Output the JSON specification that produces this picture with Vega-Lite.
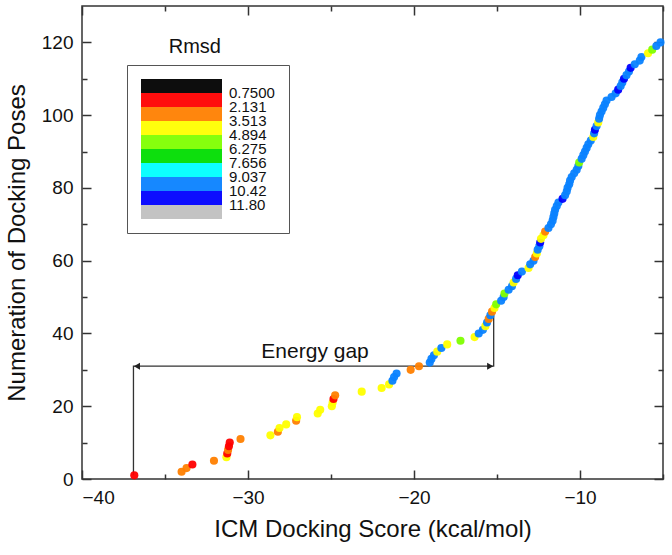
{
  "$schema": "https://vega.github.io/schema/vega-lite/v6.json",
  "width": 581,
  "height": 473,
  "autosize": {"type": "none"},
  "padding": {"left": 82, "top": 6, "right": 9, "bottom": 76},
  "background": "white",
  "config": {
    "font": "Liberation Sans",
    "view": {"stroke": "#333333", "strokeWidth": 1.5},
    "axis": {"grid": false, "domain": false, "tickColor": "#333333", "tickWidth": 1.5, "labelColor": "#111111", "titleColor": "#111111", "labelFont": "Liberation Sans", "titleFont": "Liberation Sans", "titleFontWeight": "normal"}
  },
  "datasets": {
    "poses": [
      {"pose": 1, "score": -36.85, "rmsd": 1.5},
      {"pose": 2, "score": -34.0, "rmsd": 3.0},
      {"pose": 3, "score": -33.7, "rmsd": 3.0},
      {"pose": 4, "score": -33.35, "rmsd": 1.5},
      {"pose": 5, "score": -32.05, "rmsd": 3.0},
      {"pose": 6, "score": -31.3, "rmsd": 4.2},
      {"pose": 7, "score": -31.25, "rmsd": 1.5},
      {"pose": 8, "score": -31.2, "rmsd": 3.0},
      {"pose": 9, "score": -31.15, "rmsd": 1.5},
      {"pose": 10, "score": -31.1, "rmsd": 1.5},
      {"pose": 11, "score": -30.45, "rmsd": 3.0},
      {"pose": 12, "score": -28.65, "rmsd": 4.2},
      {"pose": 13, "score": -28.2, "rmsd": 3.0},
      {"pose": 14, "score": -28.1, "rmsd": 4.2},
      {"pose": 15, "score": -27.7, "rmsd": 4.2},
      {"pose": 16, "score": -27.1, "rmsd": 3.0},
      {"pose": 17, "score": -27.05, "rmsd": 4.2},
      {"pose": 18, "score": -25.8, "rmsd": 4.2},
      {"pose": 19, "score": -25.65, "rmsd": 4.2},
      {"pose": 20, "score": -24.95, "rmsd": 4.2},
      {"pose": 21, "score": -24.9, "rmsd": 4.2},
      {"pose": 22, "score": -24.85, "rmsd": 1.5},
      {"pose": 23, "score": -24.75, "rmsd": 3.0},
      {"pose": 24, "score": -23.15, "rmsd": 4.2},
      {"pose": 25, "score": -21.95, "rmsd": 4.2},
      {"pose": 26, "score": -21.5, "rmsd": 4.2},
      {"pose": 27, "score": -21.3, "rmsd": 9.7},
      {"pose": 28, "score": -21.2, "rmsd": 9.7},
      {"pose": 29, "score": -21.05, "rmsd": 9.7},
      {"pose": 30, "score": -20.2, "rmsd": 3.0},
      {"pose": 31, "score": -19.7, "rmsd": 3.0},
      {"pose": 32, "score": -19.05, "rmsd": 9.7},
      {"pose": 33, "score": -18.95, "rmsd": 9.7},
      {"pose": 34, "score": -18.8, "rmsd": 9.7},
      {"pose": 35, "score": -18.6, "rmsd": 4.2},
      {"pose": 36, "score": -18.35, "rmsd": 9.7},
      {"pose": 37, "score": -18.0, "rmsd": 4.2},
      {"pose": 38, "score": -17.2, "rmsd": 5.5},
      {"pose": 39, "score": -16.35, "rmsd": 4.2},
      {"pose": 40, "score": -16.1, "rmsd": 9.7},
      {"pose": 41, "score": -15.85, "rmsd": 9.7},
      {"pose": 42, "score": -15.7, "rmsd": 4.2},
      {"pose": 43, "score": -15.6, "rmsd": 9.7},
      {"pose": 44, "score": -15.5, "rmsd": 3.0},
      {"pose": 45, "score": -15.4, "rmsd": 9.7},
      {"pose": 46, "score": -15.3, "rmsd": 3.0},
      {"pose": 47, "score": -15.15, "rmsd": 4.2},
      {"pose": 48, "score": -15.05, "rmsd": 5.5},
      {"pose": 49, "score": -14.75, "rmsd": 9.7},
      {"pose": 50, "score": -14.6, "rmsd": 9.7},
      {"pose": 51, "score": -14.55, "rmsd": 5.5},
      {"pose": 52, "score": -14.3, "rmsd": 9.7},
      {"pose": 53, "score": -14.1, "rmsd": 9.7},
      {"pose": 54, "score": -14.0, "rmsd": 4.2},
      {"pose": 55, "score": -13.85, "rmsd": 9.7},
      {"pose": 56, "score": -13.75, "rmsd": 11.0},
      {"pose": 57, "score": -13.5, "rmsd": 9.7},
      {"pose": 58, "score": -13.1, "rmsd": 4.2},
      {"pose": 59, "score": -13.0, "rmsd": 9.7},
      {"pose": 60, "score": -12.8, "rmsd": 9.7},
      {"pose": 61, "score": -12.7, "rmsd": 3.0},
      {"pose": 62, "score": -12.6, "rmsd": 4.2},
      {"pose": 63, "score": -12.55, "rmsd": 9.7},
      {"pose": 64, "score": -12.45, "rmsd": 9.7},
      {"pose": 65, "score": -12.4, "rmsd": 11.0},
      {"pose": 66, "score": -12.35, "rmsd": 4.2},
      {"pose": 67, "score": -12.2, "rmsd": 4.2},
      {"pose": 68, "score": -12.1, "rmsd": 3.0},
      {"pose": 69, "score": -11.9, "rmsd": 9.7},
      {"pose": 70, "score": -11.75, "rmsd": 9.7},
      {"pose": 71, "score": -11.65, "rmsd": 9.7},
      {"pose": 72, "score": -11.6, "rmsd": 9.7},
      {"pose": 73, "score": -11.55, "rmsd": 9.7},
      {"pose": 74, "score": -11.5, "rmsd": 9.7},
      {"pose": 75, "score": -11.4, "rmsd": 9.7},
      {"pose": 76, "score": -11.3, "rmsd": 9.7},
      {"pose": 77, "score": -11.05, "rmsd": 11.0},
      {"pose": 78, "score": -10.9, "rmsd": 9.7},
      {"pose": 79, "score": -10.8, "rmsd": 9.7},
      {"pose": 80, "score": -10.75, "rmsd": 9.7},
      {"pose": 81, "score": -10.65, "rmsd": 9.7},
      {"pose": 82, "score": -10.6, "rmsd": 9.7},
      {"pose": 83, "score": -10.5, "rmsd": 9.7},
      {"pose": 84, "score": -10.35, "rmsd": 9.7},
      {"pose": 85, "score": -10.2, "rmsd": 9.7},
      {"pose": 86, "score": -10.1, "rmsd": 9.7},
      {"pose": 87, "score": -10.05, "rmsd": 5.5},
      {"pose": 88, "score": -9.9, "rmsd": 9.7},
      {"pose": 89, "score": -9.8, "rmsd": 9.7},
      {"pose": 90, "score": -9.7, "rmsd": 9.7},
      {"pose": 91, "score": -9.6, "rmsd": 9.7},
      {"pose": 92, "score": -9.5, "rmsd": 9.7},
      {"pose": 93, "score": -9.35, "rmsd": 9.7},
      {"pose": 94, "score": -9.2, "rmsd": 4.2},
      {"pose": 95, "score": -9.15, "rmsd": 9.7},
      {"pose": 96, "score": -9.1, "rmsd": 11.0},
      {"pose": 97, "score": -9.0, "rmsd": 9.7},
      {"pose": 98, "score": -8.9, "rmsd": 4.2},
      {"pose": 99, "score": -8.85, "rmsd": 9.7},
      {"pose": 100, "score": -8.8, "rmsd": 9.7},
      {"pose": 101, "score": -8.7, "rmsd": 9.7},
      {"pose": 102, "score": -8.6, "rmsd": 9.7},
      {"pose": 103, "score": -8.5, "rmsd": 9.7},
      {"pose": 104, "score": -8.4, "rmsd": 9.7},
      {"pose": 105, "score": -8.1, "rmsd": 9.7},
      {"pose": 106, "score": -7.85, "rmsd": 9.7},
      {"pose": 107, "score": -7.7, "rmsd": 11.0},
      {"pose": 108, "score": -7.55, "rmsd": 9.7},
      {"pose": 109, "score": -7.45, "rmsd": 9.7},
      {"pose": 110, "score": -7.35, "rmsd": 11.0},
      {"pose": 111, "score": -7.2, "rmsd": 9.7},
      {"pose": 112, "score": -7.05, "rmsd": 9.7},
      {"pose": 113, "score": -6.95, "rmsd": 11.0},
      {"pose": 114, "score": -6.7, "rmsd": 9.7},
      {"pose": 115, "score": -6.4, "rmsd": 9.7},
      {"pose": 116, "score": -6.3, "rmsd": 9.7},
      {"pose": 117, "score": -5.9, "rmsd": 4.2},
      {"pose": 118, "score": -5.65, "rmsd": 5.5},
      {"pose": 119, "score": -5.4, "rmsd": 9.7},
      {"pose": 120, "score": -5.15, "rmsd": 9.7}
    ],
    "gap": [
      {"gx": -36.9, "gy": 1, "o": 1},
      {"gx": -36.9, "gy": 31, "o": 2},
      {"gx": -15.2, "gy": 31, "o": 3},
      {"gx": -15.2, "gy": 45, "o": 4}
    ]
  },
  "layer": [
    {
      "data": {"name": "gap"},
      "mark": {"type": "line", "color": "#333333", "strokeWidth": 1.3},
      "encoding": {
        "x": {"field": "gx", "type": "quantitative", "scale": {"domain": [-40, -5], "nice": false, "zero": false},
          "axis": {"orient": "top", "values": [-40, -35, -30, -25, -20, -15, -10, -5], "labels": false, "title": null,
            "tickSize": {"condition": {"test": "datum.value % 10 === 0", "value": -9}, "value": -5}}},
        "y": {"field": "gy", "type": "quantitative", "scale": {"domain": [0, 130], "nice": false, "zero": false},
          "axis": {"orient": "right", "values": [0, 10, 20, 30, 40, 50, 60, 70, 80, 90, 100, 110, 120], "labels": false, "title": null,
            "tickSize": {"condition": {"test": "datum.value % 20 === 0", "value": -9}, "value": -5}}},
        "order": {"field": "o", "type": "quantitative"}
      }
    },
    {
      "data": {"values": [{"ax": -36.69, "ay": 31}]},
      "mark": {"type": "point", "shape": "triangle-left", "filled": true, "color": "#222222", "size": 50, "opacity": 1},
      "encoding": {
        "x": {"field": "ax", "type": "quantitative", "axis": null},
        "y": {"field": "ay", "type": "quantitative", "axis": null}
      }
    },
    {
      "data": {"values": [{"ax": -15.41, "ay": 31}]},
      "mark": {"type": "point", "shape": "triangle-right", "filled": true, "color": "#222222", "size": 50, "opacity": 1},
      "encoding": {
        "x": {"field": "ax", "type": "quantitative", "axis": null},
        "y": {"field": "ay", "type": "quantitative", "axis": null}
      }
    },
    {
      "data": {"values": [{"tx": -25.96, "ty": 33.3, "label": "Energy gap"}]},
      "mark": {"type": "text", "fontSize": 21, "align": "center", "baseline": "alphabetic", "color": "#111111"},
      "encoding": {
        "x": {"field": "tx", "type": "quantitative", "axis": null},
        "y": {"field": "ty", "type": "quantitative", "axis": null},
        "text": {"field": "label"}
      }
    },
    {
      "data": {"values": [{"tx": -33.2, "ty": 118.6, "label": "Rmsd"}]},
      "mark": {"type": "text", "fontSize": 20, "align": "center", "baseline": "middle", "color": "#111111"},
      "encoding": {
        "x": {"field": "tx", "type": "quantitative", "axis": null},
        "y": {"field": "ty", "type": "quantitative", "axis": null},
        "text": {"field": "label"}
      }
    },
    {
      "data": {"name": "poses"},
      "transform": [{"calculate": "-datum.rmsd", "as": "rmsd_key"}],
      "mark": {"type": "circle", "size": 66, "opacity": 0.95},
      "encoding": {
        "x": {"field": "score", "type": "quantitative",
          "axis": {"orient": "bottom", "values": [-40, -35, -30, -25, -20, -15, -10, -5],
            "labelExpr": "datum.value % 10 === 0 ? datum.label : ''",
            "tickSize": {"condition": {"test": "datum.value % 10 === 0", "value": -9}, "value": -5},
            "labelPadding": 18, "labelFontSize": 19, "title": "ICM Docking Score (kcal/mol)", "titleFontSize": 24, "titlePadding": 10}},
        "y": {"field": "pose", "type": "quantitative",
          "axis": {"orient": "left", "values": [0, 10, 20, 30, 40, 50, 60, 70, 80, 90, 100, 110, 120],
            "labelExpr": "datum.value % 20 === 0 ? datum.label : ''",
            "tickSize": {"condition": {"test": "datum.value % 20 === 0", "value": -9}, "value": -5},
            "labelPadding": 18, "labelFontSize": 19, "title": "Numeration of Docking Poses", "titleFontSize": 24, "titlePadding": 12}},
        "color": {"field": "rmsd_key", "type": "quantitative",
          "scale": {"type": "threshold", "domain": [-11.80, -10.42, -9.037, -7.656, -6.275, -4.894, -3.513, -2.131, -0.75],
            "range": ["#C0C0C0", "#0000FF", "#0A82FF", "#00FFFF", "#00DD00", "#80FF00", "#FFFF00", "#FF8000", "#FF0000", "#000000"]},
          "legend": {"type": "gradient", "orient": "none", "legendX": 45, "legendY": 59, "direction": "vertical", "title": null,
            "gradientLength": 140, "gradientThickness": 81, "gradientStrokeWidth": 0,
            "labelFontSize": 15, "labelOffset": 7, "labelOverlap": false, "labelFlush": false,
            "labelExpr": "isFinite(datum.value) ? format(-datum.value, '.4r') : ''", "labelColor": "#111111",
            "strokeColor": "#555555", "padding": 14}}
      }
    }
  ],
  "resolve": {"axis": {"x": "independent", "y": "independent"}}
}
